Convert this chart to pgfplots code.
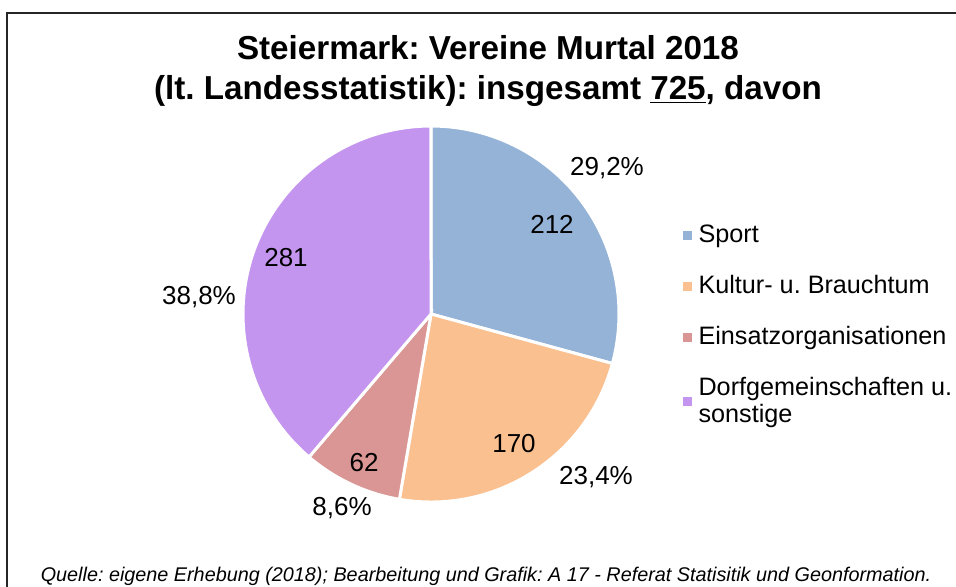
\documentclass[border=0pt]{standalone}
\usepackage{pgfplots}
\pgfplotsset{compat=1.18}
\usepackage{pgfplotstable}
\usepackage{fontspec}
\setmainfont{Liberation Sans}
\frenchspacing
\definecolor{cSport}{HTML}{95B3D7}
\definecolor{cKultur}{HTML}{FAC090}
\definecolor{cEinsatz}{HTML}{D99694}
\definecolor{cDorf}{HTML}{C495EF}

\pgfplotstableread{
cat value
Sport 212
Kultur 170
Einsatz 62
Dorf 281
}\pietable

\begin{document}
\begin{tikzpicture}
\pgfplotstablegetelem{0}{value}\of\pietable \let\vA\pgfplotsretval
\pgfplotstablegetelem{1}{value}\of\pietable \let\vB\pgfplotsretval
\pgfplotstablegetelem{2}{value}\of\pietable \let\vC\pgfplotsretval
\pgfplotstablegetelem{3}{value}\of\pietable \let\vD\pgfplotsretval
\pgfmathsetmacro\total{\vA+\vB+\vC+\vD}
\pgfmathsetmacro\aA{90-360*(\vA/\total)}
\pgfmathsetmacro\aB{\aA-360*(\vB/\total)}
\pgfmathsetmacro\aC{\aB-360*(\vC/\total)}
\pgfmathsetmacro\aD{\aC-360*(\vD/\total)}

\begin{axis}[at={(215.5pt,136pt)}, anchor=center,
  width=188pt, height=188pt, scale only axis,
  xmin=-1, xmax=1, ymin=-1, ymax=1, hide axis, clip=false,
  legend style={at={(axis cs:1.305,-0.06)}, anchor=west, draw=none, fill=none,
    font=\fontsize{12.6}{13.5}\selectfont, row sep=10.9pt,
    cells={anchor=west, align=left}},
  legend cell align=left]
\addlegendimage{legend image code/.code={\fill[cSport] (0pt,-2pt) rectangle (4pt,2pt); \path (5.5pt,0pt);}}
\addlegendentry{Sport}
\addlegendimage{legend image code/.code={\fill[cKultur] (0pt,-2pt) rectangle (4pt,2pt); \path (5.5pt,0pt);}}
\addlegendentry{Kultur- u. Brauchtum}
\addlegendimage{legend image code/.code={\fill[cEinsatz] (0pt,-2pt) rectangle (4pt,2pt); \path (5.5pt,0pt);}}
\addlegendentry{Einsatzorganisationen}
\addlegendimage{legend image code/.code={\fill[cDorf] (0pt,-2pt) rectangle (4pt,2pt); \path (5.5pt,0pt);}}
\addlegendentry{Dorfgemeinschaften u.\\sonstige}

\filldraw[fill=cSport, draw=white, line width=1.5pt] (axis cs:0,0) -- (axis cs:0,1) arc[start angle=90, end angle=\aA, radius=94pt] -- cycle;
\filldraw[fill=cKultur, draw=white, line width=1.5pt] (axis cs:0,0) -- (axis cs:{cos(\aA)},{sin(\aA)}) arc[start angle=\aA, end angle=\aB, radius=94pt] -- cycle;
\filldraw[fill=cEinsatz, draw=white, line width=1.5pt] (axis cs:0,0) -- (axis cs:{cos(\aB)},{sin(\aB)}) arc[start angle=\aB, end angle=\aC, radius=94pt] -- cycle;
\filldraw[fill=cDorf, draw=white, line width=1.5pt] (axis cs:0,0) -- (axis cs:{cos(\aC)},{sin(\aC)}) arc[start angle=\aC, end angle=\aD, radius=94pt] -- cycle;
\end{axis}

\begin{scope}[x=0.5pt,y=0.5pt]
\draw[line width=1pt, black!85] (7,573) rectangle (975,-20);
\begin{scope}[every node/.style={font=\fontsize{13}{14}\selectfont, inner sep=0pt}]
\node at (552,362) {212};
\node at (607,418) {29,2\%};
\node at (514,142) {170};
\node at (596,109) {23,4\%};
\node at (364,123) {62};
\node at (342,78) {8,6\%};
\node at (286,328) {281};
\node at (199,289) {38,8\%};
\end{scope}

\node[align=center, font=\fontsize{16.6}{20}\bfseries] at (488,515)
  {Steiermark: Vereine Murtal 2018\\(lt. Landesstatistik): insgesamt \underline{725}, davon};

\node[anchor=base, font=\fontsize{9.9}{11}\itshape, inner sep=0pt] at (486,5)
  {Quelle: eigene Erhebung (2018); Bearbeitung und Grafik: A 17 - Referat Statisitik und Geonformation.};
\end{scope}
\pgfresetboundingbox
\path[use as bounding box] (0pt,0pt) rectangle (478pt,293pt);
\end{tikzpicture}
\end{document}
